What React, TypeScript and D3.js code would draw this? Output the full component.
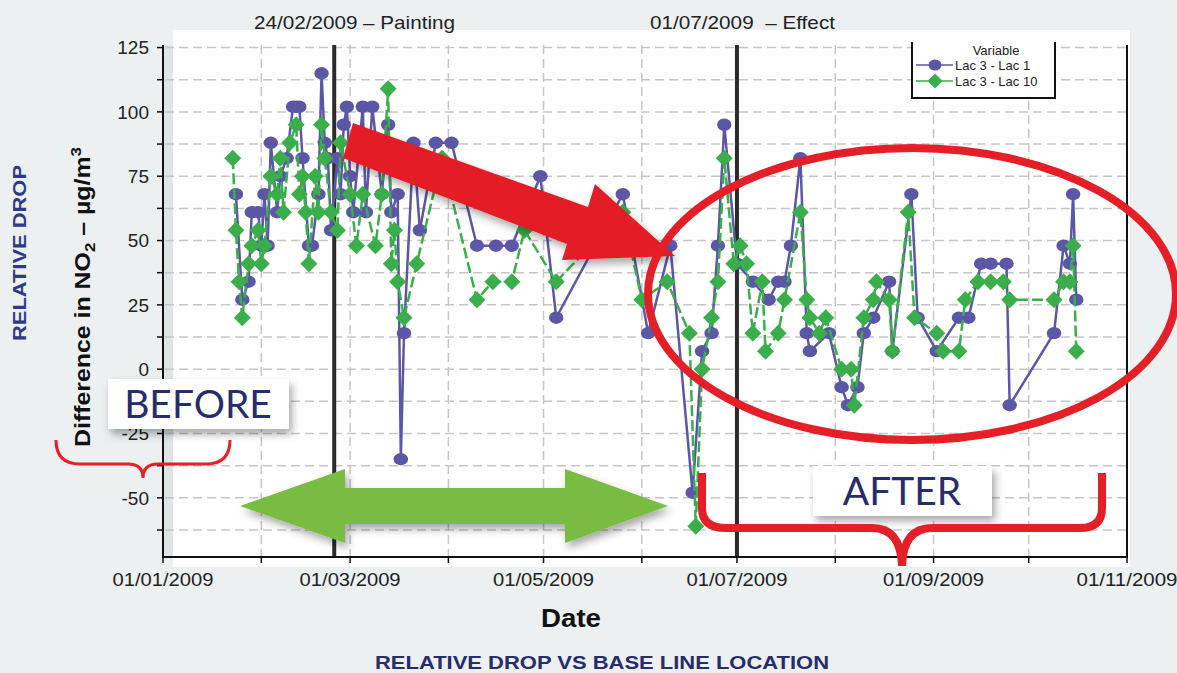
import React from 'react';
import * as d3 from 'd3';

// Lac 3 - Lac 1 (blue circles)
const lac1Dates = [
  '2009-01-24', '2009-01-26', '2009-01-28', '2009-01-29', '2009-01-31', '2009-02-01', '2009-02-02', '2009-02-03',
  '2009-02-04', '2009-02-06', '2009-02-07', '2009-02-09', '2009-02-11', '2009-02-12', '2009-02-13', '2009-02-14',
  '2009-02-16', '2009-02-17', '2009-02-19', '2009-02-20', '2009-02-21', '2009-02-22', '2009-02-23', '2009-02-25',
  '2009-02-26', '2009-02-27', '2009-02-28', '2009-03-01', '2009-03-02', '2009-03-05', '2009-03-06', '2009-03-08',
  '2009-03-11', '2009-03-13', '2009-03-14', '2009-03-16', '2009-03-17', '2009-03-18', '2009-03-21', '2009-03-23',
  '2009-03-28', '2009-04-02', '2009-04-10', '2009-04-16', '2009-04-21', '2009-04-30', '2009-05-05', '2009-05-26',
  '2009-06-03', '2009-06-10', '2009-06-17', '2009-06-20', '2009-06-23', '2009-06-25', '2009-06-27', '2009-07-01',
  '2009-07-06', '2009-07-11', '2009-07-14', '2009-07-16', '2009-07-18', '2009-07-21', '2009-07-23', '2009-07-24',
  '2009-07-30', '2009-08-03', '2009-08-05', '2009-08-08', '2009-08-10', '2009-08-13', '2009-08-18', '2009-08-19',
  '2009-08-25', '2009-08-27', '2009-09-02', '2009-09-09', '2009-09-12', '2009-09-16', '2009-09-19', '2009-09-24',
  '2009-09-25', '2009-10-09', '2009-10-12', '2009-10-14', '2009-10-15', '2009-10-16',
];
const lac1Values = [
  68, 27, 34, 61, 61, 48, 68, 48,
  88, 61, 75, 82, 102, 102, 102, 82,
  48, 48, 68, 115, 88, 82, 54, 82,
  68, 95, 102, 75, 61, 102, 61, 102,
  68, 95, 61, 68, -35, 14, 88, 54,
  88, 88, 48, 48, 48, 75, 20, 68,
  14, 48, -48, 7, 14, 48, 95, 41,
  34, 27, 34, 34, 48, 82, 14, 7,
  14, -7, -14, -7, 14, 20, 34, 7,
  68, 20, 7, 20, 20, 41, 41, 41,
  -14, 14, 48, 41, 68, 27,
];

// Lac 3 - Lac 10 (green diamonds)
const lac10Dates = [
  '2009-01-23', '2009-01-24', '2009-01-25', '2009-01-26', '2009-01-28', '2009-01-29', '2009-01-31', '2009-02-01',
  '2009-02-02', '2009-02-04', '2009-02-06', '2009-02-07', '2009-02-08', '2009-02-10', '2009-02-12', '2009-02-13',
  '2009-02-14', '2009-02-15', '2009-02-16', '2009-02-18', '2009-02-19', '2009-02-20', '2009-02-21', '2009-02-23',
  '2009-02-25', '2009-02-26', '2009-03-01', '2009-03-03', '2009-03-05', '2009-03-09', '2009-03-11', '2009-03-13',
  '2009-03-14', '2009-03-15', '2009-03-16', '2009-03-18', '2009-03-22', '2009-03-30', '2009-04-10', '2009-04-15',
  '2009-04-21', '2009-04-25', '2009-05-05', '2009-05-26', '2009-06-01', '2009-06-09', '2009-06-16', '2009-06-18',
  '2009-06-20', '2009-06-23', '2009-06-25', '2009-06-27', '2009-06-30', '2009-07-02', '2009-07-04', '2009-07-06',
  '2009-07-09', '2009-07-10', '2009-07-14', '2009-07-16', '2009-07-21', '2009-07-23', '2009-07-24', '2009-07-27',
  '2009-07-29', '2009-08-03', '2009-08-06', '2009-08-07', '2009-08-10', '2009-08-13', '2009-08-14', '2009-08-18',
  '2009-08-19', '2009-08-24', '2009-08-26', '2009-09-02', '2009-09-04', '2009-09-09', '2009-09-11', '2009-09-15',
  '2009-09-19', '2009-09-23', '2009-09-25', '2009-10-09', '2009-10-12', '2009-10-14', '2009-10-15', '2009-10-16',
];
const lac10Values = [
  82, 54, 34, 20, 41, 48, 54, 41,
  48, 75, 68, 82, 61, 88, 95, 68,
  75, 61, 41, 75, 61, 95, 82, 61,
  54, 88, 68, 48, 68, 48, 68, 109,
  41, 54, 34, 20, 41, 82, 27, 34,
  34, 54, 34, 61, 27, 34, 14, -61,
  0, 20, 34, 82, 41, 48, 41, 14,
  34, 7, 14, 27, 61, 27, 20, 14,
  20, 0, 0, -14, 20, 27, 34, 27,
  7, 61, 20, 14, 7, 7, 27, 34,
  34, 34, 27, 27, 34, 34, 48, 7,
];

const yTickValues = [-50, -25, 0, 25, 50, 75, 100, 125];
const xTickDates = ['2009-01-01', '2009-03-01', '2009-05-01', '2009-07-01', '2009-09-01', '2009-11-01'];
const eventDates = ['2009-02-24', '2009-07-01'];
const eventLabels = ['24/02/2009 – Painting', '01/07/2009  – Effect'];
const seriesNames = ['Lac 3 - Lac 1', 'Lac 3 - Lac 10'];

const W = 1177;
const H = 673;
const BLUE = '#5b57a6';
const GREEN = '#3aae4a';
const RED = '#e41f27';
const NAVY = '#282c6c';
const parse = d3.utcParse('%Y-%m-%d');
const fmt = d3.utcFormat('%d/%m/%Y');

const App = () => {
  const x = d3.scaleUtc()
    .domain([parse('2009-01-01') as Date, parse('2009-11-01') as Date])
    .range([163, 1127]);
  const y = d3.scaleLinear().domain([-73, 126]).range([557, 45]);

  const blue = lac1Dates.map((d, i) => [parse(d) as Date, lac1Values[i]] as [Date, number]);
  const green = lac10Dates.map((d, i) => [parse(d) as Date, lac10Values[i]] as [Date, number]);
  const line = d3.line<[Date, number]>().x(d => x(d[0])).y(d => y(d[1]));

  const gridY = d3.range(-62.5, 126, 12.5);
  const months = d3.utcMonth.range(parse('2009-02-01') as Date, parse('2009-11-01') as Date);
  const allMonths = d3.utcMonth.range(parse('2009-01-01') as Date, parse('2009-11-02') as Date);
  const diamond = 'M0,-8.5L8.5,0L0,8.5L-8.5,0Z';
  const labelFont = '"Liberation Sans", Arial, sans-serif';

  return (
    <div style={{ position: 'absolute', left: 0, top: 0 }}>
      <svg width={W} height={H} style={{ display: 'block', fontFamily: labelFont }}>
        <defs>
          <filter id="shadow" x="-20%" y="-30%" width="150%" height="180%">
            <feDropShadow dx="3" dy="5" stdDeviation="4" floodColor="#000" floodOpacity="0.35" />
          </filter>
        </defs>
        <rect width={W} height={H} fill="#ecf0f1" />
        {/* plot area */}
        <rect x={173} y={30} width={957} height={537} fill="#fff" />
        <rect x={163} y={45} width={10} height={512} fill="#dfe5e5" />

        {/* grid */}
        {gridY.map(v => (
          <line key={'gy' + v} x1={165} x2={1127} y1={y(v)} y2={y(v)}
            stroke="#c6c6c6" strokeWidth={1.5} strokeDasharray="9,5" />
        ))}
        {months.map(m => (
          <line key={'gx' + m.getTime()} x1={x(m)} x2={x(m)} y1={45} y2={557}
            stroke="#c6c6c6" strokeWidth={1.5} strokeDasharray="9,5" />
        ))}

        {/* event lines */}
        {eventDates.map(d => (
          <line key={d} x1={x(parse(d) as Date)} x2={x(parse(d) as Date)} y1={45} y2={557}
            stroke="#2b2b2b" strokeWidth={4} />
        ))}
        <text x={254} y={29} fontSize={19} fill="#222" textLength={201} lengthAdjust="spacingAndGlyphs">{eventLabels[0]}</text>
        <text x={650} y={29} fontSize={19} fill="#222" textLength={185} lengthAdjust="spacingAndGlyphs"
          style={{ whiteSpace: 'pre' }}>{eventLabels[1]}</text>

        {/* axes */}
        <line x1={163} x2={163} y1={45} y2={558} stroke="#111" strokeWidth={2} />
        <line x1={1127} x2={1127} y1={45} y2={558} stroke="#111" strokeWidth={2} />
        <line x1={163} x2={1128} y1={557} y2={557} stroke="#111" strokeWidth={2} />
        {gridY.map(v => (
          <line key={'ty' + v} x1={157} x2={163} y1={y(v)} y2={y(v)} stroke="#111" strokeWidth={1.5} />
        ))}
        {allMonths.map(m => (
          <line key={'tx' + m.getTime()} x1={x(m)} x2={x(m)} y1={557} y2={563} stroke="#111" strokeWidth={1.5} />
        ))}
        {yTickValues.map(v => (
          <text key={'ly' + v} x={149} y={y(v)} dy="0.36em" textAnchor="end" fontSize={19} fill="#222">{v}</text>
        ))}
        {xTickDates.map(d => (
          <text key={'lx' + d} x={x(parse(d) as Date)} y={586} textAnchor="middle" fontSize={19} fill="#222"
            textLength={101} lengthAdjust="spacingAndGlyphs">{fmt(parse(d) as Date)}</text>
        ))}

        {/* series */}
        <path d={line(blue) || ''} fill="none" stroke={BLUE} strokeWidth={2.5} />
        {blue.map((d, i) => (
          <ellipse key={'b' + i} cx={x(d[0])} cy={y(d[1])} rx={7.2} ry={6.2} fill={BLUE} />
        ))}
        <path d={line(green) || ''} fill="none" stroke={GREEN} strokeWidth={2.5} strokeDasharray="11,4" />
        {green.map((d, i) => (
          <path key={'g' + i} d={diamond} transform={`translate(${x(d[0])},${y(d[1])})`} fill={GREEN} />
        ))}

        {/* legend */}
        <rect x={912} y={40} width={143} height={58} fill="#fff" />
        <line x1={912} x2={912} y1={42} y2={99} stroke="#111" strokeWidth={2} />
        <line x1={1055} x2={1055} y1={42} y2={99} stroke="#111" strokeWidth={2} />
        <line x1={911} x2={1056} y1={98} y2={98} stroke="#111" strokeWidth={2} />
        <text x={996} y={55} textAnchor="middle" fontSize={13} fill="#222">Variable</text>
        <line x1={916} x2={953} y1={65} y2={65} stroke={BLUE} strokeWidth={1.5} />
        <ellipse cx={935} cy={65} rx={6.5} ry={5.5} fill={BLUE} />
        <text x={955} y={70} fontSize={13} fill="#222">{seriesNames[0]}</text>
        <line x1={916} x2={953} y1={81} y2={81} stroke={GREEN} strokeWidth={1.5} />
        <path d="M0,-7.5L7.5,0L0,7.5L-7.5,0Z" transform="translate(935,81)" fill={GREEN} />
        <text x={955} y={86} fontSize={13} fill="#222">{seriesNames[1]}</text>

        {/* annotations */}
        <path d="M353,123 L588,207 L595,184 L675,256 L562,260 L567,244 L343,158 Z" fill={RED} filter="url(#shadow)" />
        <ellipse cx={912} cy={294} rx={264} ry={146} fill="none" stroke={RED} strokeWidth={8} />
        <path d="M240,506 L345,469 L345,488 L565,488 L565,469 L668,506 L565,543 L565,524 L345,524 L345,543 Z"
          fill="#78bd43" filter="url(#shadow)" />

        <rect x={108} y={379} width={181} height={50} fill="#fff" filter="url(#shadow)" />
        <text x={198} y={418} textAnchor="middle" fontSize={39} fill={NAVY} fontFamily="Lato, sans-serif">BEFORE</text>
        <path d="M56,440 Q56,464 80,464 L128,464 Q143,464 143,478 Q143,464 158,464 L206,464 Q230,464 230,440"
          fill="none" stroke={RED} strokeWidth={3} />

        <rect x={813} y={466} width={179} height={50} fill="#fff" filter="url(#shadow)" />
        <text x={902} y={505} textAnchor="middle" fontSize={39} fill={NAVY} fontFamily="Lato, sans-serif">AFTER</text>
        <path d="M702,473 L702,508 Q702,528 726,528 L872,528 Q901,528 902,566 Q903,528 932,528 L1080,528 Q1102,528 1102,508 L1102,473"
          fill="none" stroke={RED} strokeWidth={8} />

        {/* axis titles */}
        <text transform="translate(26,253) rotate(-90)" textAnchor="middle" fontSize={19} fontWeight="bold"
          fill="#2e3a86" textLength={176} lengthAdjust="spacingAndGlyphs">RELATIVE DROP</text>
        <text transform="translate(90,297) rotate(-90)" textAnchor="middle" fontSize={22} fontWeight="bold" fill="#111"
          textLength={300} lengthAdjust="spacingAndGlyphs">
          Difference in NO<tspan fontSize={15} dy={5}>2</tspan><tspan dy={-5}> – µg/m</tspan><tspan fontSize={15} dy={-9}>3</tspan>
        </text>
        <text x={571} y={627} textAnchor="middle" fontSize={26} fontWeight="bold" fill="#111"
          textLength={60} lengthAdjust="spacingAndGlyphs">Date</text>
        <text x={602} y={669} textAnchor="middle" fontSize={19} fontWeight="bold" fill={NAVY}
          textLength={454} lengthAdjust="spacingAndGlyphs">RELATIVE DROP VS BASE LINE LOCATION</text>
      </svg>
    </div>
  );
};

export default App;
